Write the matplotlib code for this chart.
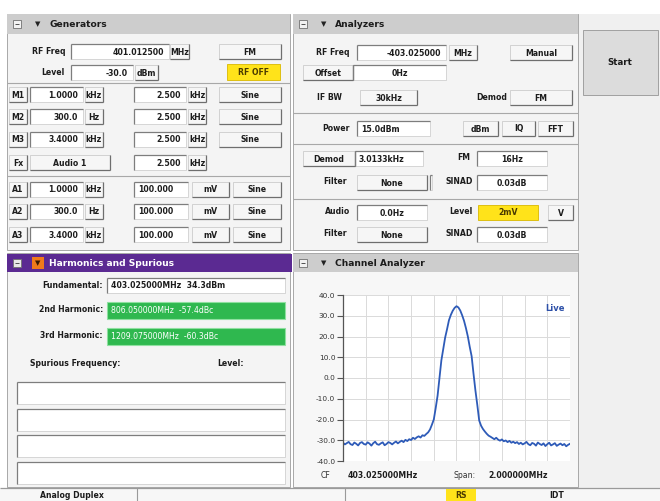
import numpy as np
import matplotlib
matplotlib.use("Agg")
import matplotlib.pyplot as plt
from matplotlib.patches import Rectangle

# ---------------- data ----------------
trace_db = [
    -31.2, -32.0, -31.4, -30.8, -31.9, -32.3, -31.1, -31.7, -32.5, -31.3,
    -30.9, -31.8, -32.1, -31.0, -31.6, -32.6, -31.4, -30.7, -31.9, -32.2,
    -31.5, -31.0, -32.4, -31.8, -30.9, -31.3, -32.0, -31.2, -30.6, -31.5,
    -30.8, -30.2, -30.9, -29.8, -30.4, -29.5, -29.9, -28.8, -29.4, -28.6,
    -28.1, -28.7, -27.6, -27.9, -27.0, -26.2, -24.8, -22.5, -20.0, -14.5,
    -8.5, 0.0, 8.5, 14.0, 19.5, 23.5, 27.8, 30.4, 32.4, 33.8,
    34.6, 34.0, 32.5, 30.2, 27.5, 24.0, 20.0, 15.0, 10.5, 2.0,
    -6.0, -13.0, -20.5, -23.0, -24.6, -25.8, -26.9, -27.8, -28.3, -28.9,
    -29.5, -28.8, -29.7, -30.2, -29.6, -30.5, -30.1, -30.9, -30.3, -31.2,
    -30.7, -31.4, -30.9, -31.8, -31.2, -32.0, -31.5, -30.8, -31.9, -32.4,
    -31.3, -31.7, -32.6, -31.1, -31.8, -32.3, -31.5, -32.8, -31.9, -31.2,
    -32.5, -32.0, -31.4, -32.7, -32.1, -31.6, -32.4, -31.8, -32.9, -32.2,
    -31.7,
]
span_khz = 2000
y_ticks = [40, 30, 20, 10, 0, -10, -20, -30, -40]
cf_text = "403.025000MHz"
span_text = "2.000000MHz"

gen_mod_rows = [("M1", "1.0000", "kHz", "2.500", "kHz", "Sine"),
                ("M2", "300.0", "Hz", "2.500", "kHz", "Sine"),
                ("M3", "3.4000", "kHz", "2.500", "kHz", "Sine")]
gen_audio_rows = [("A1", "1.0000", "kHz", "100.000", "mV", "Sine"),
                  ("A2", "300.0", "Hz", "100.000", "mV", "Sine"),
                  ("A3", "3.4000", "kHz", "100.000", "mV", "Sine")]

# ---------------- figure ----------------
W, H = 660, 501
fig = plt.figure(figsize=(6.6, 5.01), dpi=100)
fig.patch.set_facecolor("white")
bg = fig.add_axes([0, 0, 1, 1])
bg.set_xlim(0, W)
bg.set_ylim(H, 0)
bg.axis("off")

FS = 5.6
TXT = "#1c1c1c"


def rect(x, y, w, h, fc, ec="none", lw=0.6, z=1):
    bg.add_patch(Rectangle((x, y), w, h, facecolor=fc, edgecolor=ec, linewidth=lw, zorder=z))


def line(xs, ys, c="#9a9a9a", lw=0.8, z=2):
    bg.plot(xs, ys, color=c, lw=lw, zorder=z, solid_capstyle="butt")


def t(x, y, s, ha="left", size=FS, color=TXT, weight="bold", style="normal"):
    bg.text(x, y, s, ha=ha, va="center", fontsize=size, color=color,
            fontweight=weight, style=style, zorder=6)


def button(x, y, w, h, label, fc="#f6f6f6", tc=TXT):
    rect(x, y, w, h, fc, "#c4c4c4", 0.5, 3)
    line([x + w, x + w], [y, y + h], "#6e6e6e", 0.9, 4)
    line([x, x + w], [y + h, y + h], "#6e6e6e", 0.9, 4)
    if label:
        t(x + w / 2, y + h / 2 + 0.5, label, ha="center", color=tc)


def entry(x, y, w, h, text, ha="right", fc="white", tc=TXT):
    rect(x, y, w, h, fc, "#c8c8c8", 0.5, 3)
    line([x, x], [y, y + h], "#7d7d7d", 0.9, 4)
    line([x, x + w], [y, y], "#7d7d7d", 0.9, 4)
    if ha == "right":
        t(x + w - 5, y + h / 2 + 0.5, text, ha="right", color=tc)
    elif ha == "center":
        t(x + w / 2, y + h / 2 + 0.5, text, ha="center", color=tc)
    else:
        t(x + 4, y + h / 2 + 0.5, text, ha="left", color=tc)


def header(x, y, w, h, title, fc="#cdcdcd", tc=TXT, icon_fc="#f2f2f2", arrow_fc=None):
    rect(x, y, w, h, fc, "none", 0, 2)
    rect(x + 6, y + h / 2 - 4, 8, 8, icon_fc, "#707070", 0.6, 3)
    line([x + 8, x + 12], [y + h / 2, y + h / 2], "#505050", 0.7, 4)
    if arrow_fc:
        rect(x + 25, y + h / 2 - 6, 12, 12, arrow_fc, "none", 0, 3)
    t(x + 31, y + h / 2 + 0.5, "\u25bc", ha="center", size=5, color="#222222" if not arrow_fc else "#3a1a00")
    t(x + 42, y + h / 2 + 0.5, title, size=6.6, color=tc)


# window background
rect(0, 0, W, H, "white", "none", 0, 0)
rect(578, 14, 82, 474, "#f0f0f0", "none", 0, 0)

# ---- Generators panel ----
rect(7, 14, 283, 236, "#f4f4f4", "#a8a8a8", 0.7, 1)
header(7, 14, 283, 20, "Generators")
t(65, 51, "RF Freq", ha="right")
entry(71, 44, 98, 15, "401.012500")
button(170, 44, 19, 15, "MHz")
button(219, 44, 62, 15, "FM")
t(65, 72, "Level", ha="right")
entry(71, 65, 62, 15, "-30.0")
button(135, 65, 23, 15, "dBm")
rect(227, 64, 53, 16, "#ffe31a", "#d9b800", 0.6, 3)
t(253.5, 72.5, "RF OFF", ha="center", color="#4a3a00")
line([7, 290], [83, 83], "#a8a8a8", 0.8)

row_y = [94, 116, 139]
for (lab, v1, u1, v2, u2, wf), yy in zip(gen_mod_rows, row_y):
    button(9, yy - 7, 18, 15, lab)
    entry(30, yy - 7, 53, 15, v1)
    button(85, yy - 7, 18, 15, u1)
    entry(134, yy - 7, 52, 15, v2)
    button(188, yy - 7, 18, 15, u2)
    button(219, yy - 7, 62, 15, wf)
button(9, 155, 18, 15, "Fx")
button(30, 155, 80, 15, "Audio 1")
entry(134, 155, 52, 15, "2.500")
button(188, 155, 18, 15, "kHz")
line([7, 290], [176, 176], "#a8a8a8", 0.8)
row_y = [189, 211, 234]
for (lab, v1, u1, v2, u2, wf), yy in zip(gen_audio_rows, row_y):
    button(9, yy - 7, 18, 15, lab)
    entry(30, yy - 7, 53, 15, v1)
    button(85, yy - 7, 18, 15, u1)
    entry(134, yy - 7, 54, 15, v2, ha="left")
    button(192, yy - 7, 37, 15, u2)
    button(233, yy - 7, 48, 15, wf)

# ---- Analyzers panel ----
rect(293, 14, 285, 236, "#f4f4f4", "#a8a8a8", 0.7, 1)
header(293, 14, 285, 20, "Analyzers")
t(350, 52, "RF Freq", ha="right")
entry(357, 45, 89, 15, "-403.025000")
button(449, 45, 28, 15, "MHz")
button(510, 45, 62, 15, "Manual")
button(303, 65, 50, 15, "Offset")
entry(353, 65, 93, 15, "0Hz", ha="center")
t(342, 97, "IF BW", ha="right")
button(360, 90, 57, 15, "30kHz")
t(507, 97, "Demod", ha="right")
button(510, 90, 62, 15, "FM")
line([293, 578], [113, 113], "#a8a8a8", 0.8)
t(350, 128, "Power", ha="right")
entry(357, 121, 73, 15, "15.0dBm", ha="left")
button(463, 121, 35, 15, "dBm")
button(502, 121, 33, 15, "IQ")
button(538, 121, 35, 15, "FFT")
line([293, 578], [144, 144], "#a8a8a8", 0.8)
button(303, 151, 52, 15, "Demod")
entry(355, 151, 68, 15, "3.0133kHz", ha="left")
t(470, 158, "FM", ha="right")
entry(477, 151, 70, 15, "16Hz", ha="center")
t(347, 182, "Filter", ha="right")
button(357, 175, 70, 15, "None")
entry(430, 175, 2, 15, "")
t(473, 182, "SINAD", ha="right")
entry(477, 175, 70, 15, "0.03dB", ha="center")
line([293, 578], [199, 199], "#a8a8a8", 0.8)
t(350, 212, "Audio", ha="right")
entry(357, 205, 70, 15, "0.0Hz", ha="center")
t(473, 212, "Level", ha="right")
rect(478, 205, 60, 15, "#ffe31a", "#d9b800", 0.6, 3)
t(508, 212.5, "2mV", ha="center", color="#4a3a00")
button(548, 205, 25, 15, "V")
t(347, 234, "Filter", ha="right")
button(357, 227, 70, 15, "None")
t(473, 234, "SINAD", ha="right")
entry(477, 227, 70, 15, "0.03dB", ha="center")

# Start button
rect(583, 30, 75, 65, "#dcdcdc", "#a0a0a0", 0.7, 2)
t(620, 62, "Start", ha="center", size=6.2)

# ---- Harmonics and Spurious panel ----
rect(7, 253, 283, 234, "#f4f4f4", "#a8a8a8", 0.7, 1)
header(7, 254, 285, 18, "Harmonics and Spurious", fc="#5b2a92", tc="white",
       icon_fc="#e8e8e8", arrow_fc="#f07a1a")
t(103, 285, "Fundamental:", ha="right")
entry(107, 278, 178, 15, "403.025000MHz  34.3dBm", ha="left")
t(103, 310, "2nd Harmonic:", ha="right")
rect(107, 302, 178, 17, "#2fb84f", "#8fe0a0", 0.8, 3)
t(111, 310.5, "806.050000MHz  -57.4dBc", color="white", weight="normal")
t(103, 336, "3rd Harmonic:", ha="right")
rect(107, 328, 178, 17, "#2fb84f", "#8fe0a0", 0.8, 3)
t(111, 336.5, "1209.075000MHz  -60.3dBc", color="white", weight="normal")
t(30, 363, "Spurious Frequency:")
t(217, 363, "Level:")
for yy in [382, 408.5, 435, 461.5]:
    entry(17, yy, 268, 22, "")

# ---- Channel Analyzer panel ----
rect(293, 253, 285, 234, "#f7f7f7", "#a8a8a8", 0.7, 1)
header(293, 254, 285, 18, "Channel Analyzer")
t(330, 475, "CF", ha="right", color="#333333", weight="normal")
t(348, 475, cf_text)
t(476, 475, "Span:", ha="right", color="#333333", weight="normal")
t(488, 475, span_text)

# ---- status bar ----
rect(0, 488, W, 13, "#f7f7f7", "none", 0, 1)
line([0, W], [488, 488], "#9a9a9a", 0.9)
line([137, 137], [488, 501], "#9a9a9a", 0.8)
line([345, 345], [488, 501], "#9a9a9a", 0.8)
t(72, 496, "Analog Duplex", ha="center")
rect(446, 489, 30, 12, "#ffe31a", "none", 0, 2)
t(461, 496, "RS", ha="center", color="#4a3a00")
t(557, 496, "IDT", ha="center")

# ---- spectrum plot ----
ax = fig.add_axes([343 / W, (H - 461) / H, 227 / W, 166 / H])
ax.set_facecolor("white")
freq = np.linspace(-span_khz / 2, span_khz / 2, len(trace_db))
ax.plot(freq, trace_db, color="#2e5bb8", lw=1.3)
ax.set_xlim(-span_khz / 2, span_khz / 2)
ax.set_ylim(-40, 40)
ax.set_yticks(y_ticks)
ax.set_yticklabels([f"{v:.1f}" for v in y_ticks])
ax.set_xticks(np.linspace(-span_khz / 2, span_khz / 2, 11))
ax.tick_params(axis="x", length=0, labelbottom=False)
ax.tick_params(axis="y", length=4, width=0.8, color="#555555", labelsize=5.3,
               labelcolor="#333333", pad=1.5)
ax.grid(True, color="#dadada", lw=0.7)
for s in ["top", "right", "bottom"]:
    ax.spines[s].set_visible(False)
ax.spines["left"].set_color("#555555")
ax.spines["left"].set_linewidth(0.9)
ax.text(0.975, 0.92, "Live", transform=ax.transAxes, ha="right", va="center",
        fontsize=6, color="#2d50a8", fontweight="bold")

fig.savefig("out.png", dpi=100)
